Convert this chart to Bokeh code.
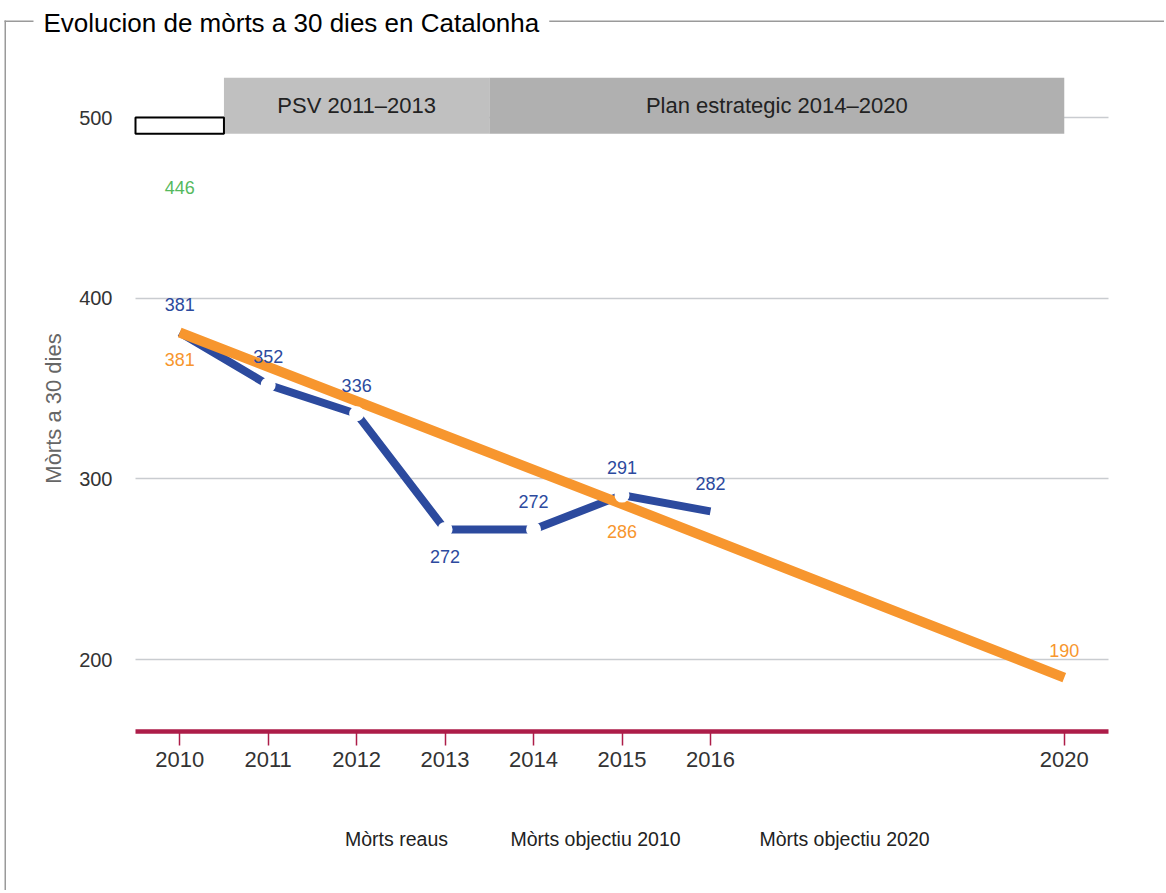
from bokeh.plotting import figure
from bokeh.models import Range1d, FixedTicker, Label, BoxAnnotation, ColumnDataSource
from bokeh.core.properties import value
from bokeh.embed import file_html
from bokeh.resources import INLINE

# ---------------- data ----------------
title_text = "Evolucion de mòrts a 30 dies en Catalonha"
y_axis_label = "Mòrts a 30 dies"

years_reaus = [2010, 2011, 2012, 2013, 2014, 2015, 2016]
morts_reaus = [381, 352, 336, 272, 272, 291, 282]

years_obj2010 = [2010]
morts_obj2010 = [446]

years_obj2020 = [2010, 2015, 2020]
morts_obj2020 = [381, 286, 190]

x_ticks = [2010, 2011, 2012, 2013, 2014, 2015, 2016, 2020]
y_ticks = [200, 300, 400, 500]

band_labels = ["PSV 2011\u20132013", "Plan estrategic 2014\u20132020"]
band_start = [2010.5, 2013.5]
band_end = [2013.5, 2020]

legend_labels = ["Mòrts reaus", "Mòrts objectiu 2010", "Mòrts objectiu 2020"]

# ---------------- style / geometry ----------------
FONT = "Liberation Sans"
BLUE = "#2c4a9e"
ORANGE = "#f7962e"
GREEN = "#55b95e"
CRIMSON = "#ad1d49"
GRID = "#c9ccd0"
FRAME = "#9a9a9a"

W, H = 1164, 890
# inner plotting area (canvas px): left 135, right 1108, y(500)=117, y(200)=659
X0, X1 = 2009.5, 2020.5
PX_X = (1108 - 135) / (X1 - X0)
PX_Y = (659 - 117) / 300.0
x_start = X0 - 135 / PX_X
x_end = X1 + (W - 1108) / PX_X
y_top = 500 + 117 / PX_Y
y_bottom = 500 - (H - 117) / PX_Y
Y_AXIS = 500 - (731 - 117) / PX_Y      # value at the crimson axis line
Y_LABEL_MID = 500 - (408 - 117) / PX_Y  # where the y-axis title is centred

p = figure(width=W, height=H,
           x_range=Range1d(x_start, x_end), y_range=Range1d(y_bottom, y_top),
           output_backend="svg", toolbar_location=None, min_border=0)
p.outline_line_color = None
p.background_fill_color = "white"
p.border_fill_color = "white"

# axes (placed inside the full-canvas frame)
p.xaxis.fixed_location = Y_AXIS
p.xaxis.bounds = (X0, X1)
p.xaxis.ticker = FixedTicker(ticks=x_ticks)
p.xaxis.axis_line_color = CRIMSON
p.xaxis.axis_line_width = 4.5
p.xaxis.major_tick_line_color = CRIMSON
p.xaxis.major_tick_line_width = 1.5
p.xaxis.major_tick_out = 14
p.xaxis.major_tick_in = 0
p.xaxis.minor_tick_line_color = None
p.xaxis.major_label_text_font = FONT
p.xaxis.major_label_text_font_size = "22px"
p.xaxis.major_label_text_color = "#333333"
p.xaxis.major_label_standoff = 6

p.yaxis.fixed_location = X0
p.yaxis.bounds = (Y_AXIS, 2 * Y_LABEL_MID - Y_AXIS)
p.yaxis.ticker = FixedTicker(ticks=y_ticks)
p.yaxis.axis_line_color = None
p.yaxis.major_tick_line_color = None
p.yaxis.major_tick_out = 0
p.yaxis.major_tick_in = 0
p.yaxis.minor_tick_line_color = None
p.yaxis.major_label_text_font = FONT
p.yaxis.major_label_text_font_size = "20px"
p.yaxis.major_label_text_color = "#333333"
p.yaxis.major_label_standoff = 23
p.yaxis.axis_label = y_axis_label
p.yaxis.axis_label_text_font = FONT
p.yaxis.axis_label_text_font_size = "22px"
p.yaxis.axis_label_text_font_style = "normal"
p.yaxis.axis_label_text_color = "#666666"
p.yaxis.axis_label_standoff = 10

p.xgrid.grid_line_color = None
p.ygrid.grid_line_color = GRID
p.ygrid.grid_line_width = 1.5
p.ygrid.cross_bounds = (X0, X1)

# bands
band_src = ColumnDataSource(dict(left=band_start, right=band_end,
                                 xc=[(a + b) / 2 for a, b in zip(band_start, band_end)],
                                 label=band_labels, color=["#c0c0c0", "#b0b0b0"]))
p.quad(left="left", right="right", bottom=491, top=522, fill_color="color",
       line_color=None, source=band_src)
p.text(x="xc", y=506.5, text="label", source=band_src, text_align="center",
       text_baseline="middle", text_font=value(FONT), text_font_size="22px",
       text_color="#222222")
# empty key box
p.quad(left=[X0], right=[x_ticks[0] + 0.5], bottom=491, top=500,
       fill_color="white", line_color="black", line_width=2)

# lines
p.line(years_reaus, morts_reaus, line_width=8, line_color=BLUE, line_join="miter")
p.line(years_obj2020, morts_obj2020, line_width=10, line_color=ORANGE, line_join="miter")
p.scatter(years_reaus[1:6], morts_reaus[1:6], size=15, fill_color="white", line_color=None)

# data labels
blue_off = [-28, -28, -28, 27, -28, -28, -28]
p.text(x=years_reaus, y=morts_reaus, text=[str(v) for v in morts_reaus],
       y_offset=blue_off, text_align="center", text_baseline="middle",
       text_font=value(FONT), text_font_size="18px", text_color=BLUE)
orange_off = [27, 27, -27]
p.text(x=years_obj2020, y=morts_obj2020, text=[str(v) for v in morts_obj2020],
       y_offset=orange_off, text_align="center", text_baseline="middle",
       text_font=value(FONT), text_font_size="18px", text_color=ORANGE)
p.text(x=years_obj2010, y=morts_obj2010, text=[str(v) for v in morts_obj2010],
       y_offset=-28, text_align="center", text_baseline="middle",
       text_font=value(FONT), text_font_size="18px", text_color=GREEN)

# legend texts (below the axis)
for lab, xc in zip(legend_labels, [396, 595, 844]):
    p.add_layout(Label(x=xc, y=838, x_units="canvas", y_units="canvas", text=lab,
                       text_align="center", text_baseline="middle", text_font=FONT,
                       text_font_size="19.5px", text_color="#222222"))

# frame (left and top rules) and title
for l, r, t, b in [(4, 5.5, 20, H + 10), (4, W + 10, 20, 21.5)]:
    p.add_layout(BoxAnnotation(left=l, right=r, top=t, bottom=b,
                               left_units="canvas", right_units="canvas",
                               top_units="canvas", bottom_units="canvas",
                               fill_color=FRAME, fill_alpha=1, line_color=None))
p.add_layout(Label(x=33, y=22, x_units="canvas", y_units="canvas", text=title_text,
                   text_align="left", text_baseline="alphabetic", text_font=FONT,
                   text_font_size="26px", text_color="black",
                   background_fill_color="white", padding=10))

open("out.html", "w").write(file_html(p, INLINE))
